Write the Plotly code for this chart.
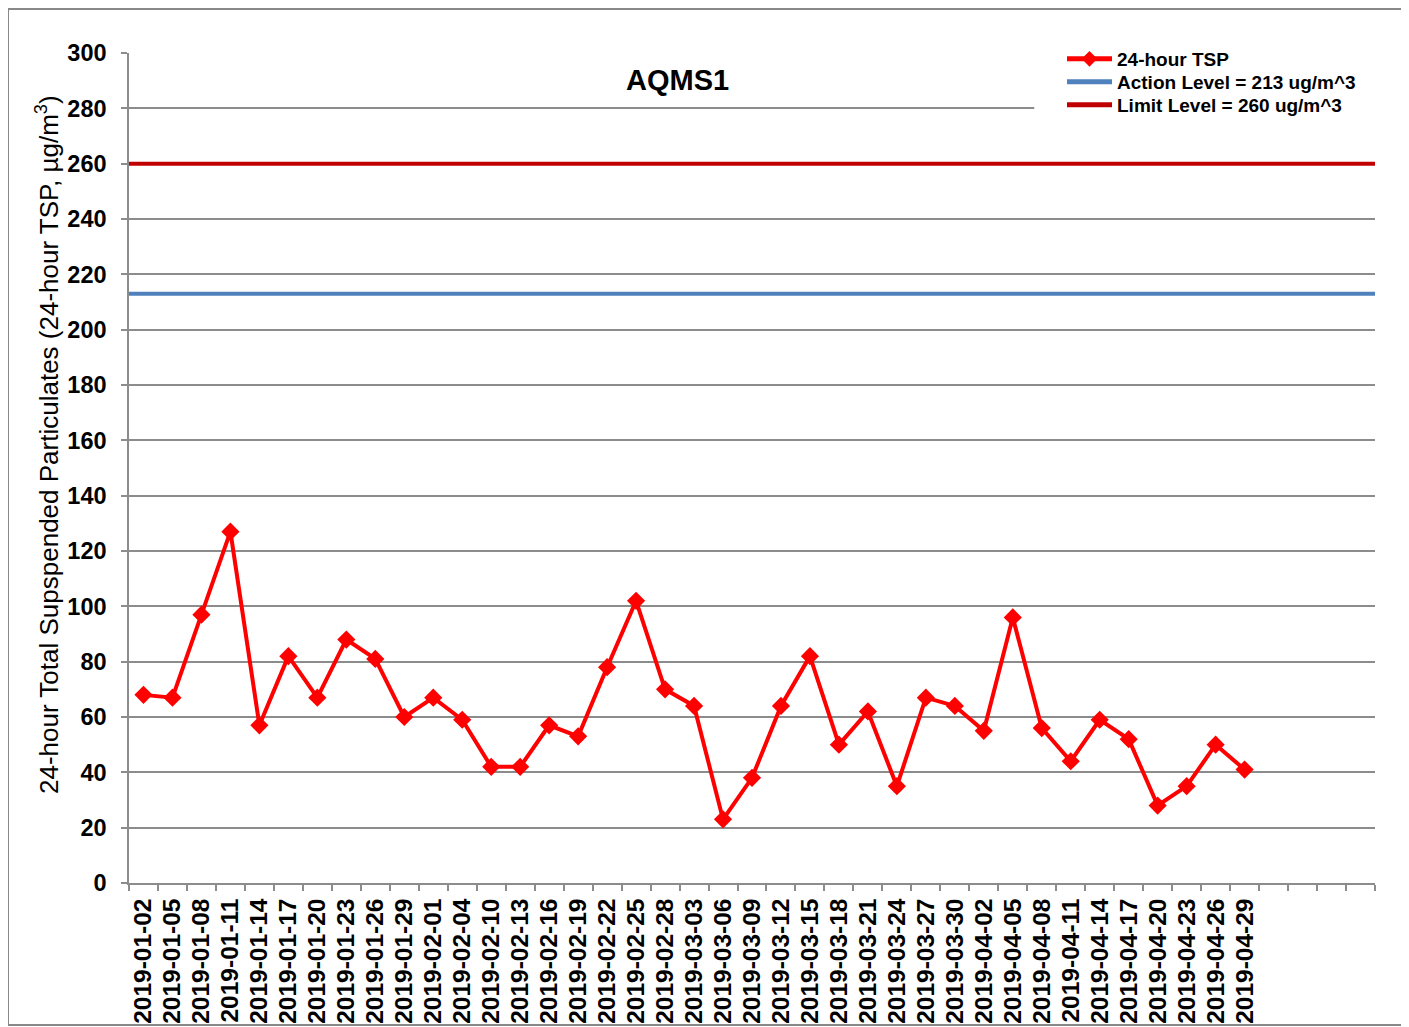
import plotly.graph_objects as go

dates = ["2019-01-02", "2019-01-05", "2019-01-08", "2019-01-11", "2019-01-14", "2019-01-17",
         "2019-01-20", "2019-01-23", "2019-01-26", "2019-01-29", "2019-02-01", "2019-02-04",
         "2019-02-10", "2019-02-13", "2019-02-16", "2019-02-19", "2019-02-22", "2019-02-25",
         "2019-02-28", "2019-03-03", "2019-03-06", "2019-03-09", "2019-03-12", "2019-03-15",
         "2019-03-18", "2019-03-21", "2019-03-24", "2019-03-27", "2019-03-30", "2019-04-02",
         "2019-04-05", "2019-04-08", "2019-04-11", "2019-04-14", "2019-04-17", "2019-04-20",
         "2019-04-23", "2019-04-26", "2019-04-29"]
tsp = [68, 67, 97, 127, 57, 82, 67, 88, 81, 60, 67, 59, 42, 42, 57, 53, 78, 102, 70, 64,
       23, 38, 64, 82, 50, 62, 35, 67, 64, 55, 96, 56, 44, 59, 52, 28, 35, 50, 41]
blank_slots = [" ", "  ", "   ", "    "]
action_level = 213
limit_level = 260

# page body has an 8px margin; figure is placed at (8, 8)
OFF = 8
W, H = 1409 - OFF, 1027 - OFF
L, R, T, B = 129, 1375, 53, 883   # plot area in page pixels

def px(x):
    return (x - L) / (R - L)

def py(y):
    return (B - y) / (B - T)

font = "Liberation Sans, Arial, sans-serif"
grid = "#8c8c8c"

fig = go.Figure()
fig.add_trace(go.Scatter(
    x=dates, y=tsp, mode="lines+markers", name="24-hour TSP", legend="legend",
    line=dict(color="#FF0000", width=4),
    marker=dict(symbol="diamond", size=14, color="#FF0000"),
))
fig.add_trace(go.Scatter(
    x=blank_slots, y=[None] * len(blank_slots), mode="lines", showlegend=False,
    hoverinfo="skip",
))
fig.add_trace(go.Scatter(
    x=[0, 1], y=[action_level, action_level], mode="lines", xaxis="x2", legend="legend2",
    name="Action Level = 213 ug/m^3", line=dict(color="#4F81BD", width=4),
))
fig.add_trace(go.Scatter(
    x=[0, 1], y=[limit_level, limit_level], mode="lines", xaxis="x2", legend="legend3",
    name="Limit Level = 260 ug/m^3", line=dict(color="#C00000", width=4),
))

def legend_at(top_px):
    return dict(
        x=px(1062), y=py(top_px), xanchor="left", yanchor="top",
        bgcolor="rgba(0,0,0,0)", borderwidth=0,
        font=dict(family=font, size=19, color="black", weight="bold"),
        itemwidth=45, tracegroupgap=0, itemsizing="constant",
    )

cats = dates + blank_slots
n_cats = len(cats)
fig.update_layout(
    width=W, height=H,
    margin=dict(l=L - OFF, r=W - (R - OFF), t=T - OFF, b=H - (B - OFF), autoexpand=False),
    paper_bgcolor="white", plot_bgcolor="white",
    font=dict(family=font, color="black"),
    showlegend=True,
    legend=legend_at(40),
    legend2=legend_at(63),
    legend3=legend_at(86),
    xaxis=dict(
        type="category", categoryorder="array", categoryarray=cats,
        range=[-0.5, n_cats - 0.5], automargin=False,
        tickmode="array", tickvals=cats, ticktext=cats,
        tickson="boundaries", ticks="outside", ticklen=6, tickcolor=grid, tickwidth=1.5,
        showgrid=False, showline=True, linecolor=grid, linewidth=1.5,
        tickangle=-90, tickfont=dict(family=font, size=24.5, color="black", weight="bold"),
        ticklabelstandoff=4,
        zeroline=False,
    ),
    xaxis2=dict(overlaying="x", range=[0, 1], visible=False, fixedrange=True),
    yaxis=dict(
        range=[0, 300], dtick=20, tick0=0, automargin=False,
        showgrid=True, gridcolor=grid, gridwidth=1.5,
        showline=True, linecolor=grid, linewidth=1.5,
        ticks="outside", ticklen=6, tickcolor=grid, tickwidth=1.5,
        tickfont=dict(family=font, size=23.5, color="black", weight="bold"),
        ticklabelstandoff=10,
        zeroline=False,
    ),
    annotations=[
        dict(
            text="<b>AQMS1</b>", x=px(677), y=py(80), xref="paper", yref="paper",
            showarrow=False, font=dict(family=font, size=29, color="black"),
            xanchor="center", yanchor="middle",
        ),
        dict(
            text="24-hour Total Supspended Particulates (24-hour TSP, µg/m<sup>3</sup>)",
            x=px(47), y=py(445), xref="paper", yref="paper", textangle=-90,
            showarrow=False, font=dict(family=font, size=26, color="black"),
            xanchor="center", yanchor="middle",
        ),
    ],
    shapes=[
        # white backdrop behind the legend, hiding the gridlines there
        dict(
            type="rect", xref="x", yref="y",
            x0=30.74, x1=n_cats - 0.5, y0=275, y1=305,
            line=dict(width=0), fillcolor="white", layer="between",
        ),
        dict(
            type="rect", xref="paper", yref="paper",
            x0=px(8), x1=px(1415), y0=py(1025), y1=py(9),
            line=dict(color="#888888", width=2), fillcolor="rgba(0,0,0,0)", layer="below",
        ),
    ],
)

fig.write_html("out.html")
